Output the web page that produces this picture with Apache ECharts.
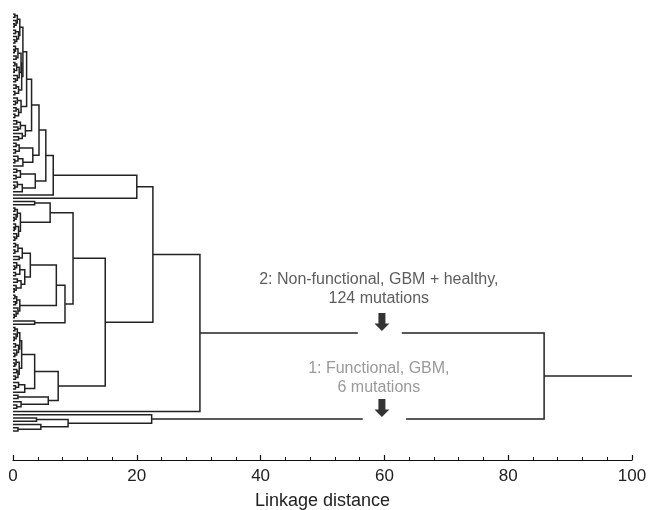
<!DOCTYPE html>
<html><head><meta charset="utf-8">
<script src="https://cdn.jsdelivr.net/npm/echarts@6/dist/echarts.min.js"></script>
<style>html,body{margin:0;padding:0;background:#fff}#c{width:654px;height:510px}</style>
</head><body><div id="c"></div>
<script>
// ---- data: merge heights (linkage distance); a node is [height, left, right], a leaf is 0 ----
const blockA = [1.1, [0.7, [0.3,0,0], [0.5,0,[0.2,0,0]]], [0.9, [0.4,0,0], [0.6,0,[0.3,0,0]]]];
const blockB = [1.3, [0.8, [0.4,0,[0.2,0,0]], [0.5,0,0]], [1.0, [0.6,[0.3,0,0],[0.2,0,0]], [0.7,0,[0.4,0,0]]]];
const U1a1a = [1.6, blockA, [1.4, blockB, [0.9,[0.5,0,0],[0.3,0,0]]]];
const U1a1b = [1.3, [0.7,0,[0.4,0,0]], [0.9,[0.5,0,0],[0.3,0,0]]];
const U1a2  = [2.0, [1.2,[0.6,0,0],[0.8,0,0]], [1.5,0,[0.9,0,0]]];
const U1b   = [3.2, [1.0,[0.5,0,0],[0.4,0,0]], [1.6,[0.8,0,[0.3,0,0]],0]];
const U2    = [3.6, [1.2,[0.6,0,0],[0.5,0,0]], [1.5,[0.7,0,[0.3,0,0]],0]];
const U     = [5.3, [4.2, [3.0, [2.2, U1a1a, U1a1b], U1a2], U1b], U2];
const A     = [20.0, [6.5, U, 0], 0];

const Z     = [1.2, [0.7,[0.3,0,0],[0.5,0,[0.2,0,0]]], [0.9,[0.4,0,[0.2,0,0]],[0.6,0,[0.3,0,0]]]];
const C1a   = [6.0, [3.5,0,0], Z];
const X     = [2.8, [1.5,[0.8,[0.4,0,0],[0.3,0,0]],[1.0,0,0]], [1.9,[1.1,[0.6,0,[0.3,0,0]],[0.4,0,0]],[1.3,[0.7,0,0],[0.5,0,[0.2,0,0]]]]];
const Y     = [1.1, [0.6,[0.3,0,0],[0.4,0,0]], [0.8,0,[0.5,0,[0.2,0,0]]]];
const C1    = [9.7, C1a, [8.4, [7.0, X, Y], [3.5,0,0]]];

const C2a1  = [1.4, [1.1,[0.7,[0.3,0,0],[0.5,0,[0.2,0,0]]],[0.9,[0.4,0,0],[0.6,0,[0.3,0,0]]]], [1.0,[0.5,0,[0.3,0,0]],[0.8,[0.6,0,0],[0.4,0,0]]]];
const C2a2  = [1.9, [0.9,0,[0.4,0,0]], 0];
const C2b   = [5.7, [0.8,0,0], [1.3,0,[0.6,0,0]]];
const C     = [14.9, C1, [7.3, [3.5, C2a1, C2a2], C2b]];

const cluster2 = [30.2, [22.6, A, C], 0];                       // 124 mutations
const cluster1 = [22.4, 0, [8.9, [3.8,0,0], [4.5,0,[0.8,0,0]]]]; // 6 mutations
const rootHeight = 85.8;
const rootTail = 100;
const gapUpper = [55.7, 62.8];
const gapLower = [56.5, 63.5];
const arrowX = 59.6;
const xTicks = [0, 20, 40, 60, 80, 100];
const label2 = ['2: Non-functional, GBM + healthy,', '124 mutations'];
const label1 = ['1: Functional, GBM,', '6 mutations'];

// ---- layout ----
const segs = [];
let leafCounter = 0;
function layout(node) {
  if (!Array.isArray(node)) return { y: leafCounter++, h: 0 };
  const l = layout(node[1]), r = layout(node[2]), h = node[0];
  segs.push([[l.h, l.y], [h, l.y], [h, r.y], [r.h, r.y]]);
  return { y: (l.y + r.y) / 2, h: h };
}
const c2 = layout(cluster2);
const c1 = layout(cluster1);
segs.push([[c2.h, c2.y], [gapUpper[0], c2.y]]);
segs.push([[gapUpper[1], c2.y], [rootHeight, c2.y], [rootHeight, c1.y], [gapLower[1], c1.y]]);
segs.push([[gapLower[0], c1.y], [c1.h, c1.y]]);
const rootMid = (c2.y + c1.y) / 2;
segs.push([[rootHeight, rootMid], [rootTail, rootMid]]);

const arrowPath = 'path://M4,0L11,0L11,10L15,10L7.5,17L0,10L4,10Z';
const font = '"Liberation Sans", Arial, sans-serif';

const chart = echarts.init(document.getElementById('c'), null, { renderer: 'canvas' });
chart.setOption({
  animation: false,
  backgroundColor: '#fff',
  grid: { left: 13, right: 22, top: 14, bottom: 50, outerBoundsMode: 'none', containLabel: false },
  xAxis: {
    type: 'value', position: 'bottom', min: xTicks[0], max: xTicks[xTicks.length - 1], interval: 20,
    axisLine: { show: true, onZero: false, lineStyle: { color: '#111', width: 1.2 } },
    axisTick: { show: true, inside: true, length: 5, lineStyle: { color: '#111', width: 1.2 } },
    minorTick: { show: true, splitNumber: 5, length: 3, lineStyle: { color: '#111' } },
    splitLine: { show: false },
    axisLabel: { color: '#222', fontSize: 17, fontFamily: font, margin: 8 },
    name: 'Linkage distance', nameLocation: 'middle', nameGap: 32,
    nameTextStyle: { color: '#222', fontSize: 18, fontFamily: font }
  },
  yAxis: { type: 'value', min: 0, max: 138, inverse: true, show: false },
  series: [
    {
      type: 'lines', coordinateSystem: 'cartesian2d', polyline: true, silent: true,
      lineStyle: { color: '#222', width: 1.5, opacity: 1 },
      data: segs.map(c => ({ coords: c }))
    },
    {
      type: 'scatter', silent: true, symbol: arrowPath, symbolSize: [15, 18],
      symbolOffset: [0, -11], itemStyle: { color: '#000' },
      data: [[arrowX, c2.y], [arrowX, c1.y]]
    },
    {
      type: 'scatter', silent: true, symbolSize: 0,
      label: { show: true, position: 'top', fontSize: 16, lineHeight: 19, fontFamily: font, align: 'center' },
      data: [
        { value: [arrowX - 0.5, c2.y], label: { distance: 25, color: '#333', formatter: label2.join('\n') } },
        { value: [arrowX - 0.5, c1.y], label: { distance: 22, color: '#808080', formatter: label1.join('\n') } }
      ]
    }
  ]
});
</script></body></html>
